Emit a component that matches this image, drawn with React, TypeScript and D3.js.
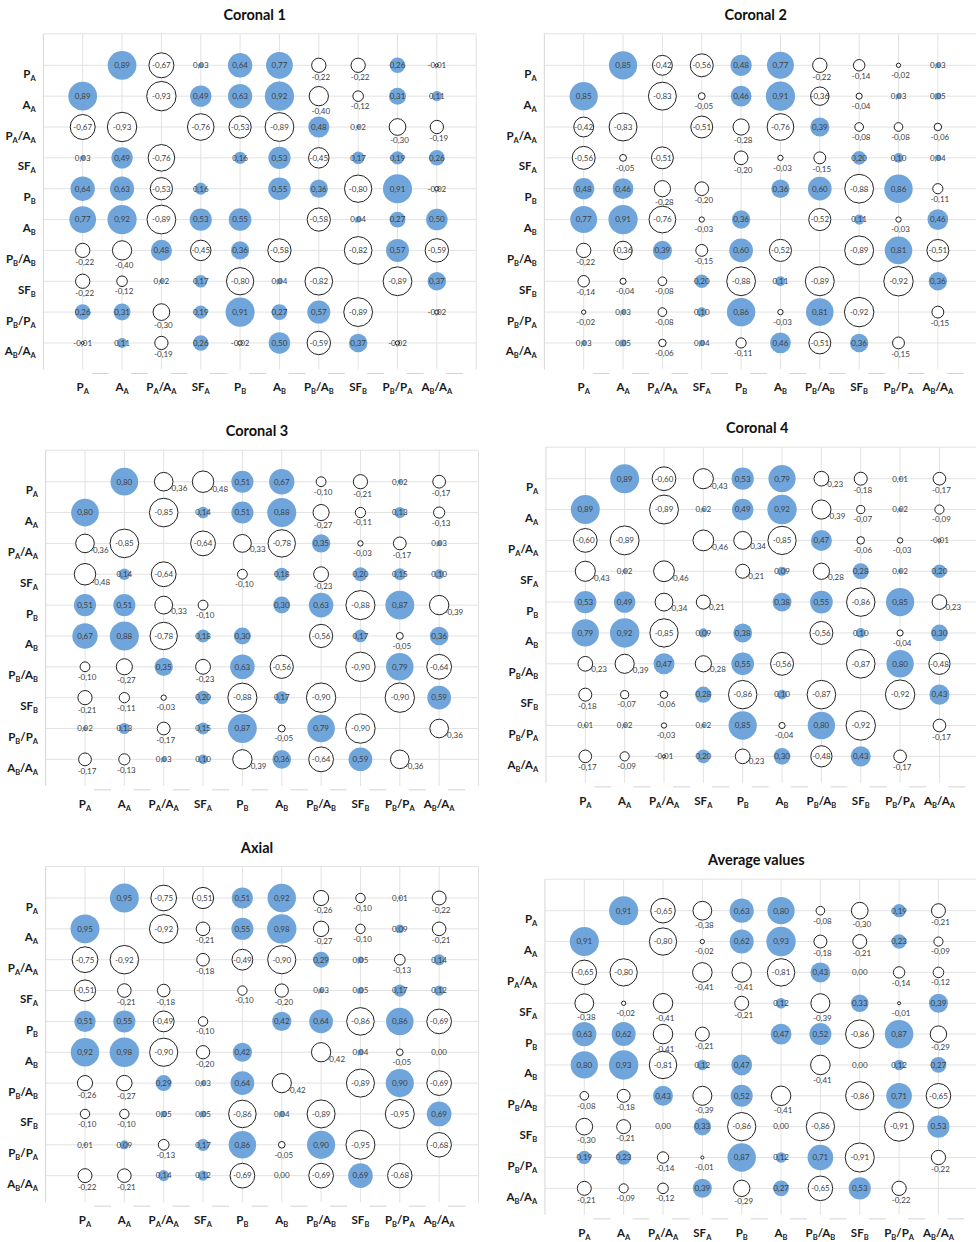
import React from "react";
import * as d3 from "d3";

// variable names, same order on both axes ("_" marks the subscript letter)
const vars = ["P_A", "A_A", "P_A/A_A", "SF_A", "P_B", "A_B", "P_B/A_B", "SF_B", "P_B/P_A", "A_B/A_A"];

// correlation matrices, upper triangle only (row i, columns i+1..9); mirrored below
const coronal1 = [
  [0.89, -0.67, 0.03, 0.64, 0.77, -0.22, -0.22, 0.26, -0.01],
  [-0.93, 0.49, 0.63, 0.92, -0.4, -0.12, 0.31, 0.11],
  [-0.76, -0.53, -0.89, 0.48, 0.02, -0.3, -0.19],
  [0.16, 0.53, -0.45, 0.17, 0.19, 0.26],
  [0.55, 0.36, -0.8, 0.91, -0.02],
  [-0.58, 0.04, 0.27, 0.5],
  [-0.82, 0.57, -0.59],
  [-0.89, 0.37],
  [-0.02],
];

const coronal2 = [
  [0.85, -0.42, -0.56, 0.48, 0.77, -0.22, -0.14, -0.02, 0.03],
  [-0.83, -0.05, 0.46, 0.91, -0.36, -0.04, 0.03, 0.05],
  [-0.51, -0.28, -0.76, 0.39, -0.08, -0.08, -0.06],
  [-0.2, -0.03, -0.15, 0.2, 0.1, 0.04],
  [0.36, 0.6, -0.88, 0.86, -0.11],
  [-0.52, 0.11, -0.03, 0.46],
  [-0.89, 0.81, -0.51],
  [-0.92, 0.36],
  [-0.15],
];

const coronal3 = [
  [0.8, -0.36, -0.48, 0.51, 0.67, -0.1, -0.21, 0.02, -0.17],
  [-0.85, 0.14, 0.51, 0.88, -0.27, -0.11, 0.13, -0.13],
  [-0.64, -0.33, -0.78, 0.35, -0.03, -0.17, 0.03],
  [-0.1, 0.18, -0.23, 0.2, 0.15, 0.1],
  [0.3, 0.63, -0.88, 0.87, -0.39],
  [-0.56, 0.17, -0.05, 0.36],
  [-0.9, 0.79, -0.64],
  [-0.9, 0.59],
  [-0.36],
];

const coronal4 = [
  [0.89, -0.6, -0.43, 0.53, 0.79, -0.23, -0.18, 0.01, -0.17],
  [-0.89, 0.02, 0.49, 0.92, -0.39, -0.07, 0.02, -0.09],
  [-0.46, -0.34, -0.85, 0.47, -0.06, -0.03, -0.01],
  [-0.21, 0.09, -0.28, 0.28, 0.02, 0.2],
  [0.38, 0.55, -0.86, 0.85, -0.23],
  [-0.56, 0.1, -0.04, 0.3],
  [-0.87, 0.8, -0.48],
  [-0.92, 0.43],
  [-0.17],
];

const axial = [
  [0.95, -0.75, -0.51, 0.51, 0.92, -0.26, -0.1, 0.01, -0.22],
  [-0.92, -0.21, 0.55, 0.98, -0.27, -0.1, 0.09, -0.21],
  [-0.18, -0.49, -0.9, 0.29, 0.05, -0.13, 0.14],
  [-0.1, -0.2, 0.03, 0.05, 0.17, 0.12],
  [0.42, 0.64, -0.86, 0.86, -0.69],
  [-0.42, 0.04, -0.05, 0.0],
  [-0.89, 0.9, -0.69],
  [-0.95, 0.69],
  [-0.68],
];

const average = [
  [0.91, -0.65, -0.38, 0.63, 0.8, -0.08, -0.3, 0.19, -0.21],
  [-0.8, -0.02, 0.62, 0.93, -0.18, -0.21, 0.23, -0.09],
  [-0.41, -0.41, -0.81, 0.43, 0.0, -0.14, -0.12],
  [-0.21, 0.12, -0.39, 0.33, -0.01, 0.39],
  [0.47, 0.52, -0.86, 0.87, -0.29],
  [-0.41, 0.0, 0.12, 0.27],
  [-0.86, 0.71, -0.65],
  [-0.91, 0.53],
  [-0.22],
];

const COL_STEP = 39.35;
const ROW_STEP = 30.85;
const R_MAX = 14.7;
const BLUE = "#6fa5da";
const GRID = "#e2e2e2";
const FONT = "Lato, 'Open Sans', sans-serif";

// label placement for negative bubbles: centred, to the lower right, or below
type Cfg = { centerMin: number; rightMin: number; tinyMax: number };

const panels: { title: string; upper: number[][]; col1: number; row1: number; cfg: Cfg }[] = [
  { title: "Coronal 1", upper: coronal1, col1: 82.7, row1: 65.3, cfg: { centerMin: 0.45, rightMin: 2, tinyMax: 0.02 } },
  { title: "Coronal 2", upper: coronal2, col1: 583.7, row1: 65.3, cfg: { centerMin: 0.35, rightMin: 2, tinyMax: 0 } },
  { title: "Coronal 3", upper: coronal3, col1: 85, row1: 481.7, cfg: { centerMin: 0.5, rightMin: 0.3, tinyMax: 0.02 } },
  { title: "Coronal 4", upper: coronal4, col1: 585.3, row1: 478.7, cfg: { centerMin: 0.47, rightMin: 0.2, tinyMax: 0.02 } },
  { title: "Axial", upper: axial, col1: 85, row1: 898, cfg: { centerMin: 0.49, rightMin: 0.4, tinyMax: 0.02 } },
  { title: "Average values", upper: average, col1: 584.3, row1: 910.7, cfg: { centerMin: 0.65, rightMin: 2, tinyMax: 0 } },
];

const full = (upper: number[][]) => {
  const n = vars.length;
  const m: (number | null)[][] = d3.range(n).map(() => d3.range(n).map(() => null));
  upper.forEach((row, i) =>
    row.forEach((v, k) => {
      const j = i + 1 + k;
      m[i][j] = v;
      m[j][i] = v;
    })
  );
  return m;
};

const fmt = (v: number) => v.toFixed(2).replace(".", ",");

const VarLabel: React.FC<{ name: string; x: number; y: number; anchor: string }> = ({ name, x, y, anchor }) => {
  const parts = name.split("/");
  return (
    <text x={x} y={y} textAnchor={anchor} fontFamily={FONT} fontWeight="bold" fontSize={11.5} fill="#1a1a1a">
      {parts.map((p, i) => {
        const [main, sub] = p.split("_");
        return (
          <React.Fragment key={i}>
            <tspan dy={i > 0 ? -3 : 0}>{(i > 0 ? "/" : "") + main}</tspan>
            <tspan fontSize={7.5} dy={3}>{sub}</tspan>
          </React.Fragment>
        );
      })}
    </text>
  );
};

const Panel: React.FC<{ title: string; upper: number[][]; col1: number; row1: number; cfg: Cfg }> = ({
  title, upper, col1, row1, cfg,
}) => {
  const m = full(upper);
  const maxAbs = d3.max(upper.flat(), (v) => Math.abs(v)) ?? 1;
  const x = d3.scaleLinear().domain([0, 11]).range([col1 - COL_STEP, col1 + 10 * COL_STEP]);
  const y = d3.scaleLinear().domain([0, 9]).range([row1, row1 + 9 * ROW_STEP]);
  const r = d3.scaleSqrt().domain([0, maxAbs]).range([0, R_MAX]);
  const top = row1 - 31.5;
  const bottom = y(9) + 26.5;
  const left = x(0);
  const right = x(11);

  const cells: { i: number; j: number; v: number }[] = [];
  m.forEach((row, i) => row.forEach((v, j) => { if (v !== null) cells.push({ i, j, v }); }));

  const labelPos = (c: { i: number; j: number; v: number }) => {
    const cx = x(c.j + 1);
    const cy = y(c.i);
    const rr = r(Math.abs(c.v));
    const a = Math.abs(c.v);
    if (c.v >= 0 || a >= cfg.centerMin || a <= cfg.tinyMax) return [cx, cy];
    if (a >= cfg.rightMin) return [cx + rr + 5, cy + rr * 0.7];
    return [cx + 2, cy + Math.max(rr + 5, 10)];
  };

  return (
    <g>
      <text x={col1 + 172} y={row1 - 49} textAnchor="middle" dominantBaseline="middle"
        fontFamily={FONT} fontWeight="bold" fontSize={14.5} fill="#111">{title}</text>
      {/* gridlines */}
      <line x1={left} x2={right} y1={top} y2={top} stroke={GRID} />
      {vars.map((_, i) => (
        <line key={"h" + i} x1={left} x2={right} y1={y(i)} y2={y(i)} stroke={GRID} />
      ))}
      {vars.map((_, j) => (
        <line key={"v" + j} x1={x(j + 1)} x2={x(j + 1)} y1={top} y2={bottom} stroke={GRID} />
      ))}
      <line x1={left} x2={left} y1={top} y2={bottom} stroke="#d6d6d6" />
      <line x1={right} x2={right} y1={top} y2={bottom} stroke={GRID} />
      {vars.map((_, j) => (
        <line key={"d" + j} x1={x(j + 1) + 9} x2={x(j + 1) + 26} y1={bottom + 4} y2={bottom + 4} stroke="#d3d3d3" />
      ))}
      {/* bubbles */}
      {cells.map((c) =>
        c.v === 0 ? null : (
          <circle key={`c${c.i}-${c.j}`} cx={x(c.j + 1)} cy={y(c.i)} r={r(Math.abs(c.v))}
            fill={c.v > 0 ? BLUE : "#fff"} stroke={c.v > 0 ? "none" : "#222"} strokeWidth={1} />
        )
      )}
      {/* value labels */}
      {cells.map((c) => {
        const [lx, ly] = labelPos(c);
        return (
          <text key={`t${c.i}-${c.j}`} x={lx} y={ly} dy="0.35em" textAnchor="middle"
            fontFamily={FONT} fontSize={8} fill="#404040">{fmt(c.v)}</text>
        );
      })}
      {/* axis labels */}
      {vars.map((name, i) => (
        <VarLabel key={"yl" + i} name={name} x={col1 - 47} y={y(i) + 12.5} anchor="end" />
      ))}
      {vars.map((name, j) => (
        <VarLabel key={"xl" + j} name={name} x={x(j + 1)} y={y(9) + 48.5} anchor="middle" />
      ))}
    </g>
  );
};

export default function App() {
  return (
    <div style={{ position: "absolute", left: 0, top: 0 }}>
      <svg width={976} height={1242} style={{ display: "block", background: "#fff" }}>
        {panels.map((p) => (
          <Panel key={p.title} {...p} />
        ))}
      </svg>
    </div>
  );
}
